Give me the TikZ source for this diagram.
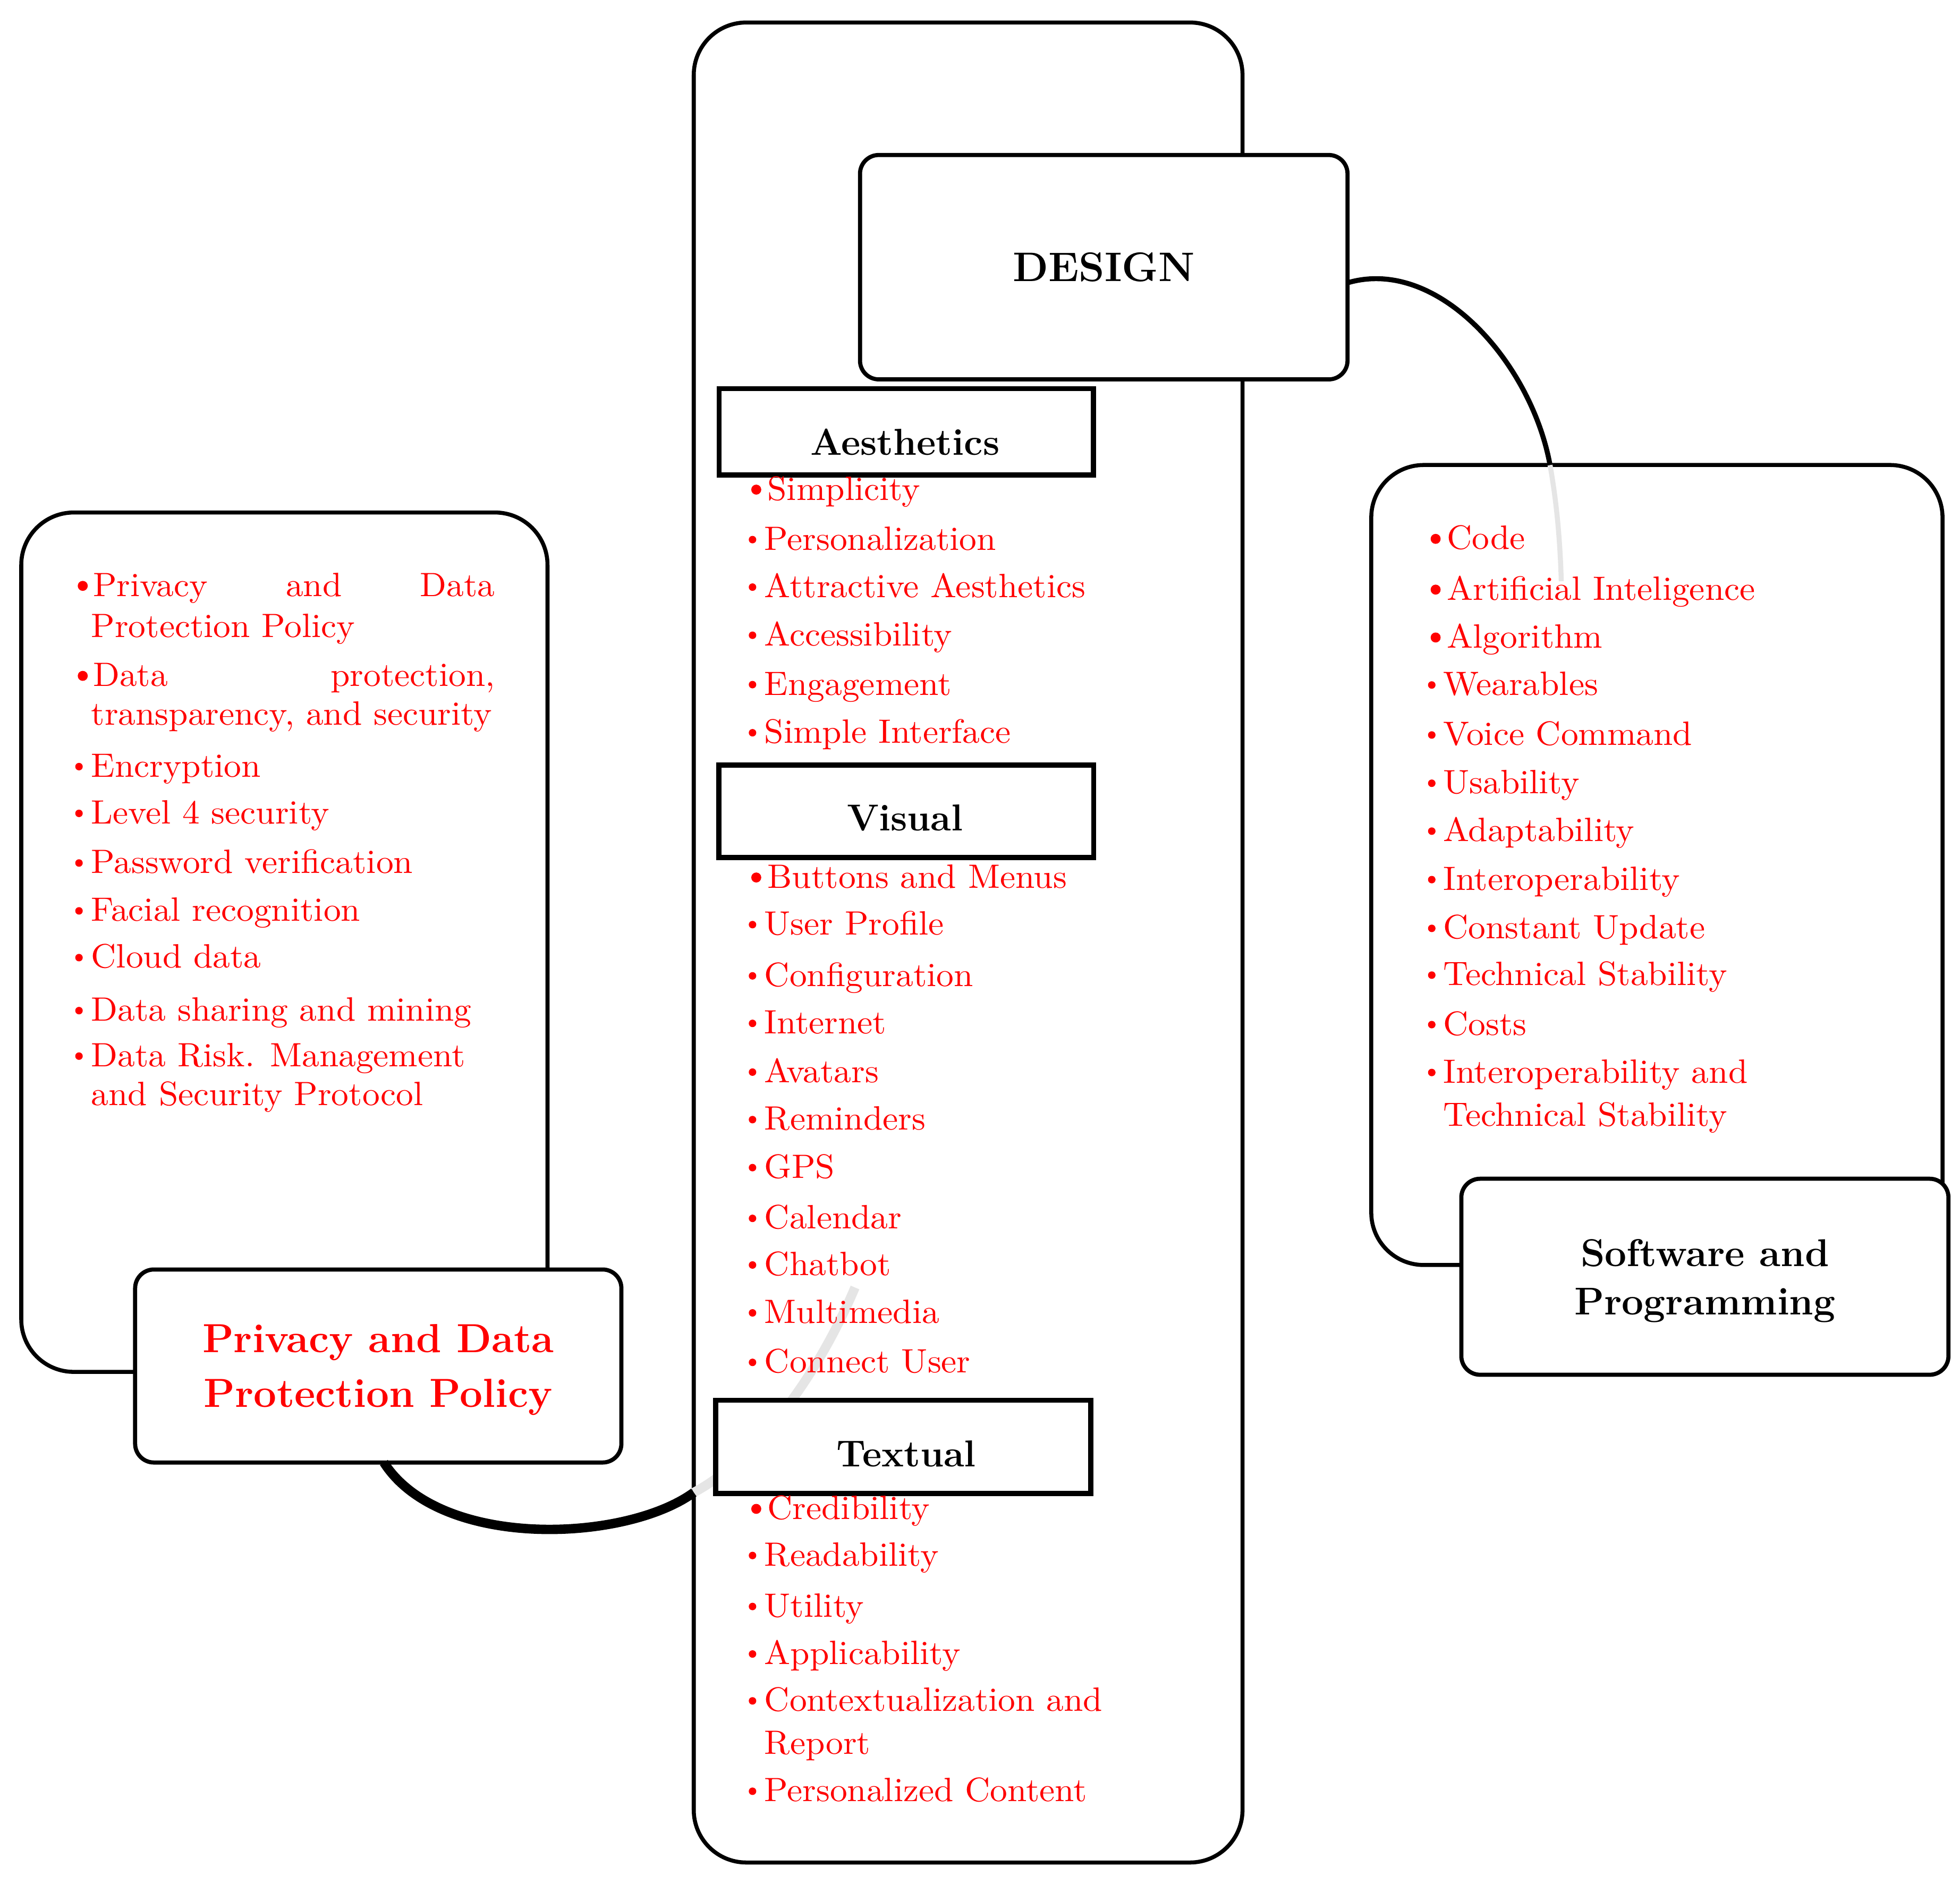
\documentclass[tikz,border=0pt]{standalone}
\usepackage{fontspec}
\newfontfamily\itemfamily{lmroman10-regular.otf}[FakeStretch=1.03]
\newcommand\itemfont{\itemfamily\fontsize{27}{33}\selectfont}
\newcommand\headfont{\fontsize{30}{36}\selectfont\bfseries}
\newcommand\titlefont{\fontsize{31}{36}\selectfont\bfseries}
\newcommand\ptitlefont{\fontsize{32.5}{38}\selectfont\bfseries}
\newcommand\designfont{\fontsize{33}{40}\selectfont\bfseries}
\newcommand\bigitem[5]{\fill[red] (#2,#4-8.3) circle (4pt); \node[itm] (#1) at (#3,#4) {#5};}
\newcommand\smallitem[5]{\fill[red] (#2,#4-8.3) circle (3pt); \node[itm] (#1) at (#3,#4) {#5};}
\newcommand\contline[4]{\node[itm] (#1) at (#2,#3) {#4};}
\tikzset{
  cont/.style={draw, line width=3.2pt, rounded corners=42pt, inner sep=0pt, outer sep=0pt},
  rbox/.style={draw, line width=3.3pt, rounded corners=15pt, fill=white, inner sep=0pt, outer sep=0pt},
  hbox/.style={draw, line width=4pt, fill=white, inner sep=0pt, outer sep=0pt},
  itm/.style={anchor=base west, inner sep=0pt, outer sep=0pt, text=red, font=\itemfont},
  htext/.style={anchor=base, inner sep=0pt, font=\headfont},
  ttext/.style={anchor=base, inner sep=0pt, font=\titlefont},
  ghost/.style={draw=black!10},
  conn/.style={draw=black},
}
\begin{document}
\begin{tikzpicture}[x=1pt,y=-1pt]
\useasboundingbox[fill=white] (0,0) rectangle (1568,1506.8);

% containers
\node[cont, minimum width=439pt, minimum height=1472pt] (dcont) at (774.5,754) {};
\node[cont, minimum width=421pt, minimum height=687.5pt] (lcont) at (227.5,753.75) {};
\node[cont, minimum width=457pt, minimum height=640pt] (rcont) at (1325.5,692) {};

% faded continuations of the connectors
\coordinate (c1) at (1240,372);
\coordinate (c2) at (1249,465);
\coordinate (c3) at (555,1194);
\coordinate (c4) at (684,1030);
\draw[ghost, line width=4pt] (c1) .. controls (1245,400) and (1248,430) .. (c2);
\draw[ghost, line width=7.5pt] (c3) .. controls (600,1170) and (650,1110) .. (c4);

% boxes
\node[rbox, minimum width=390pt, minimum height=179.5pt] (design) at (883,213.75) {};
\node[rbox, minimum width=389pt, minimum height=154.4pt] (pbox) at (302.6,1092.8) {};
\node[rbox, minimum width=389.7pt, minimum height=156.8pt] (sbox) at (1363.9,1021.4) {};
\node[hbox, minimum width=299.3pt, minimum height=69pt] (aesbox) at (725,345.5) {};
\node[hbox, minimum width=299.7pt, minimum height=73.9pt] (visbox) at (725,649) {};
\node[hbox, minimum width=300.1pt, minimum height=74.6pt] (texbox) at (722.6,1157.5) {};

% connectors
\draw[conn, line width=4pt] ([yshift=-12.5pt]design.east) .. controls (1150,205) and (1225,290) .. (c1);
\draw[conn, line width=7.5pt] ([xshift=4.5pt]pbox.south) .. controls (352,1240) and (500,1234) .. (c3);

% titles
\node[anchor=base, inner sep=0pt, font=\designfont] (designT) at (883,225) {DESIGN};
\node[anchor=base, inner sep=0pt, font=\ptitlefont, text=red] (pT1) at (302.6,1082) {Privacy and Data};
\node[anchor=base, inner sep=0pt, font=\ptitlefont, text=red] (pT2) at (302.6,1125.6) {Protection Policy};
\node[ttext] (sT1) at (1363.9,1013.3) {Software and};
\node[ttext] (sT2) at (1363.9,1051.8) {Programming};
\node[htext] (aesT) at (724,364) {Aesthetics};
\node[htext] (visT) at (724,664.5) {Visual};
\node[htext] (texT) at (725,1173.4) {Textual};

% Aesthetics items
\bigitem{a1}{605}{614}{400}{Simplicity}
\smallitem{a2}{602}{611.6}{440}{Personalization}
\smallitem{a3}{602}{611.6}{478}{Attractive Aesthetics}
\smallitem{a4}{602}{611.6}{516.5}{Accessibility}
\smallitem{a5}{602}{611.6}{556}{Engagement}
\smallitem{a6}{602}{611.6}{594.5}{Simple Interface}

% Visual items
\bigitem{v1}{605}{614}{710.3}{Buttons and Menus}
\smallitem{v2}{602}{611.6}{748}{User Profile}
\smallitem{v3}{602}{611.6}{789}{Configuration}
\smallitem{v4}{602}{611.6}{827}{Internet}
\smallitem{v5}{602}{611.6}{866}{Avatars}
\smallitem{v6}{602}{611.6}{904}{Reminders}
\smallitem{v7}{602}{611.6}{942.4}{GPS}
\smallitem{v8}{602}{611.6}{983}{Calendar}
\smallitem{v9}{602}{611.6}{1020.3}{Chatbot}
\smallitem{v10}{602}{611.6}{1058.6}{Multimedia}
\smallitem{v11}{602}{611.6}{1098.2}{Connect User}

% Textual items
\bigitem{t1}{605}{614}{1215.4}{Credibility}
\smallitem{t2}{602}{611.6}{1252.7}{Readability}
\smallitem{t3}{602}{611.6}{1293.5}{Utility}
\smallitem{t4}{602}{611.6}{1331.5}{Applicability}
\smallitem{t5}{602}{611.6}{1369}{Contextualization and}
\contline{t5b}{611.6}{1403.3}{Report}
\smallitem{t6}{602}{611.6}{1441.3}{Personalized Content}

% Software items
\bigitem{s1}{1148.5}{1157.6}{439.4}{Code}
\bigitem{s2}{1148.5}{1157.6}{480}{Artificial Inteligence}
\bigitem{s3}{1148.5}{1157.6}{518.3}{Algorithm}
\smallitem{s4}{1145.4}{1154.6}{556.3}{Wearables}
\smallitem{s5}{1145.4}{1154.6}{596.3}{Voice Command}
\smallitem{s6}{1145.4}{1154.6}{634.9}{Usability}
\smallitem{s7}{1145.4}{1154.6}{673.2}{Adaptability}
\smallitem{s8}{1145.4}{1154.6}{712}{Interoperability}
\smallitem{s9}{1145.4}{1154.6}{751}{Constant Update}
\smallitem{s10}{1145.4}{1154.6}{788.4}{Technical Stability}
\smallitem{s11}{1145.4}{1154.6}{828}{Costs}
\smallitem{s12}{1145.4}{1154.6}{866.3}{Interoperability and}
\contline{s12b}{1154.6}{900.9}{Technical Stability}

% Privacy items
\bigitem{p1}{66.2}{74.5}{477}{\makebox[321.5pt][s]{Privacy and Data}}
\contline{p1b}{73}{510}{Protection Policy}
\bigitem{p2}{66.2}{74.5}{549}{\makebox[321.5pt][s]{Data protection,}}
\contline{p2b}{73}{580}{transparency, and security}
\smallitem{p3}{63.2}{73}{621.6}{Encryption}
\smallitem{p4}{63.2}{73}{659}{Level 4 security}
\smallitem{p5}{63.2}{73}{698.7}{Password verification}
\smallitem{p6}{63.2}{73}{737}{Facial recognition}
\smallitem{p7}{63.2}{73}{774.4}{Cloud data}
\smallitem{p8}{63.2}{73}{816.8}{Data sharing and mining}
\smallitem{p9}{63.2}{73}{853.2}{Data Risk. Management}
\contline{p9b}{73}{884.5}{and Security Protocol}
\end{tikzpicture}
\end{document}
